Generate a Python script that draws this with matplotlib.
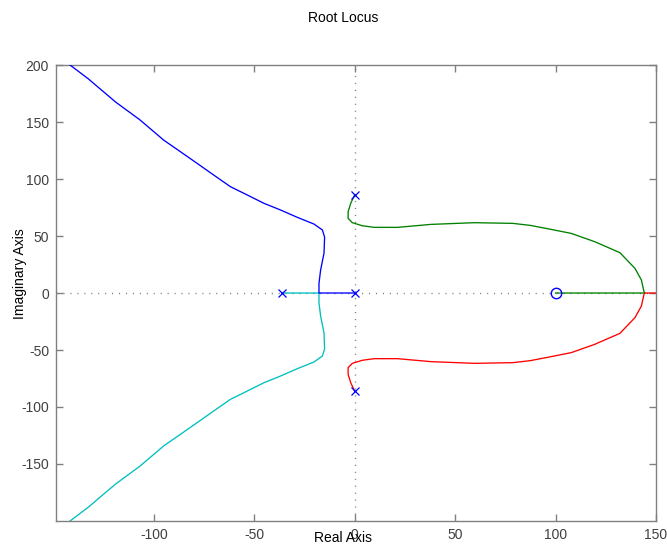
import matplotlib
matplotlib.use('Agg')
import matplotlib.pyplot as plt

# root locus branches (real part, imaginary part)
blue_re = [0, -17.8, -17.8, -17.0, -15.3, -15.0, -16.1, -20.3, -28.6, -36.9, -45.2,
           -53.5, -61.9, -70.2, -78.5, -86.8, -95.0, -107.0, -119.0, -126.7, -132.7,
           -141.7, -150.0]
blue_im = [0, 0, 8.5, 20.0, 35.0, 49.0, 55.3, 60.5, 66.4, 72.8, 78.7,
           86.0, 93.3, 103.5, 113.8, 124.0, 134.0, 152.0, 167.5, 179.0, 188.0,
           200.0, 211.0]

cyan_re = [-36.4, -17.8, -17.8, -17.0, -15.3, -15.0, -16.1, -20.3, -28.6, -36.9, -45.2,
           -53.5, -61.9, -70.2, -78.5, -86.8, -95.0, -107.0, -119.0, -126.7, -132.7,
           -141.7, -150.0]
cyan_im = [0, 0, -8.5, -20.0, -35.0, -49.0, -55.3, -60.5, -66.4, -72.8, -78.7,
           -86.0, -93.3, -103.5, -113.8, -124.0, -134.0, -152.0, -167.5, -179.0, -188.0,
           -200.0, -211.0]

green_re = [0, -2.0, -3.3, -3.3, -1.2, 3.8, 9.7, 21.3, 37.9, 59.6, 78.7, 87.5, 97.8,
            107.8, 119.5, 132.0, 139.5, 142.7, 144.0, 144.5, 100.0]
green_im = [86.3, 78.7, 71.3, 65.5, 61.7, 59.0, 57.6, 57.6, 60.2, 61.7, 61.1, 59.3, 55.8,
            52.3, 45.0, 35.4, 21.6, 11.4, 1.1, 0, 0]

red_re = [0, -2.0, -3.3, -3.3, -1.2, 3.8, 9.7, 21.3, 37.9, 59.6, 78.7, 87.5, 97.8,
          107.8, 119.5, 132.0, 139.5, 142.7, 144.0, 144.5, 155.0]
red_im = [-86.3, -78.7, -71.3, -65.5, -61.7, -59.0, -57.6, -57.6, -60.2, -61.7, -61.1, -59.3, -55.8,
          -52.3, -45.0, -35.4, -21.6, -11.4, -1.1, 0, 0]

pole_re = [0, -36.4, 0, 0]
pole_im = [0, 0, 86.3, -86.3]
zero_re = [100]
zero_im = [0]

xticks = [-100, -50, 0, 50, 100, 150]
yticks = [-150, -100, -50, 0, 50, 100, 150, 200]

plt.rcParams['font.family'] = ['Liberation Sans', 'DejaVu Sans']
plt.rcParams['axes.unicode_minus'] = False

fig = plt.figure(figsize=(6.67, 5.48), dpi=100)
ax = fig.add_axes([0.084, 0.0493, 0.8996, 0.832])

gray = '#808080'
ax.axhline(0, color=gray, lw=1, ls=(0, (0.8, 4.2)), zorder=1)
ax.axvline(0, color=gray, lw=1, ls=(0, (0.8, 4.2)), zorder=1)

lw = 0.95
ax.plot(blue_re, blue_im, color='#0000ff', lw=lw, zorder=3)
ax.plot(cyan_re, cyan_im, color='#00bfbf', lw=lw, zorder=2)
ax.plot(green_re, green_im, color='#008000', lw=lw, zorder=2)
ax.plot(red_re, red_im, color='#ff0000', lw=lw, zorder=2)

ax.plot(pole_re, pole_im, 'x', color='#0000ff', ms=6, mew=0.9, zorder=4)
ax.plot(zero_re, zero_im, 'o', mfc='none', mec='#0000ff', ms=7.5, mew=1.0, zorder=4)

ax.set_xlim(-148.7, 150)
ax.set_ylim(-200, 200)
ax.set_xticks(xticks)
ax.set_yticks(yticks)

for s in ax.spines.values():
    s.set_color(gray)
    s.set_linewidth(1.0)
ax.tick_params(direction='in', length=5, width=1, color=gray, labelcolor='#404040',
               labelsize=10, top=True, right=True, pad=5)

fig.text(0.514, 0.968, 'Root Locus', ha='center', va='center', fontsize=10)
fig.text(0.514, 0.018, 'Real Axis', ha='center', va='center', fontsize=10)
fig.text(0.03, 0.5, 'Imaginary Axis', ha='center', va='center', rotation=90, fontsize=10)

fig.savefig('out.png', dpi=100)
